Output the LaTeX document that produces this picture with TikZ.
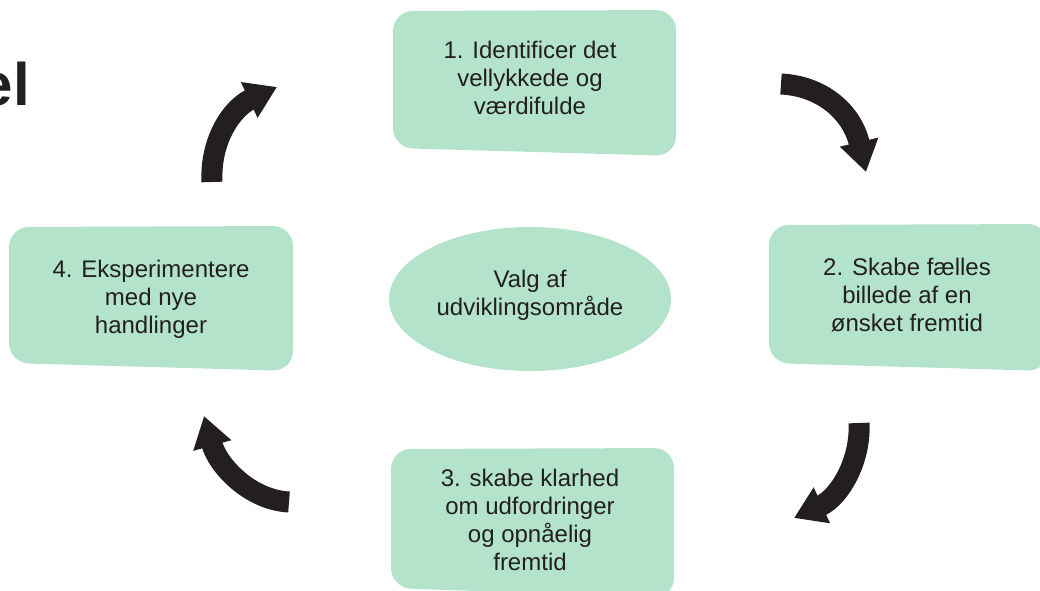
\documentclass[tikz,border=0pt]{standalone}
\usepackage{fontspec}
\setmainfont{Liberation Sans}
\usetikzlibrary{arrows.meta,shapes.geometric}
\definecolor{mint}{HTML}{B3E3CB}
\definecolor{ink}{HTML}{231F20}
\begin{document}
\begin{tikzpicture}[x=0.75pt,y=-0.75pt,
  panel/.style={fill=mint, rounded corners=15pt},
  label/.style={align=center, text=ink, inner sep=0pt, anchor=base,
    font=\fontsize{18}{21}\selectfont},
  cyclearrow/.style={draw=ink, line width=15.75pt,
    -{Triangle[width=28pt,length=23pt]}}
]
\useasboundingbox (0,0) rectangle (1040,590);
\clip (0,0) rectangle (1040,590);

% title fragment at the left edge
\node[anchor=base east, inner sep=0pt, text=ink,
      font=\bfseries\fontsize{45}{54}\selectfont] (title) at (30,105) {el};

% the four step panels (slightly skewed rounded quadrilaterals)
\path[panel] (393,11) -- (676,10) -- (676,156) -- (393,148) -- cycle;
\path[panel] (769,225) -- (1048,224) -- (1048,371) -- (769,363) -- cycle;
\path[panel] (391,449) -- (674,448) -- (674,598) -- (391,588) -- cycle;
\path[panel] (9,227) -- (293,226) -- (293,371) -- (9,363) -- cycle;

% central ellipse
\node[ellipse, fill=mint, inner sep=0pt, minimum width=211.5pt,
      minimum height=108pt] (core) at (530,299) {};

% texts (anchored at the baseline of their last line)
\node[label] (s1) at (530,114) {1. Identificer det\\vellykkede og\\værdifulde};
\node[label] (s2) at (907,331) {2. Skabe fælles\\billede af en\\ønsket fremtid};
\node[label] (s3) at (530,570) {3. skabe klarhed\\om udfordringer\\og opnåelig\\fremtid};
\node[label] (s4) at (151,333) {4. Eksperimentere\\med nye\\handlinger};
\node[label] (c) at (530,315) {Valg af\\udviklingsområde};

% arrow end points
\coordinate (a1s) at (781,84);  \coordinate (a1e) at (866,172);
\coordinate (a2s) at (859,423); \coordinate (a2e) at (794,518);
\coordinate (a3s) at (289,502); \coordinate (a3e) at (204,416);
\coordinate (a4s) at (212,182); \coordinate (a4e) at (277,87);

% curved cycle arrows
\draw[cyclearrow] (a1s) .. controls (822,86) and (852,112) .. (a1e);
\draw[cyclearrow] (a2s) .. controls (861,460) and (840,497) .. (a2e);
\draw[cyclearrow] (a3s) .. controls (250,500) and (218,466) .. (a3e);
\draw[cyclearrow] (a4s) .. controls (210,140) and (232,108) .. (a4e);
\end{tikzpicture}
\end{document}
